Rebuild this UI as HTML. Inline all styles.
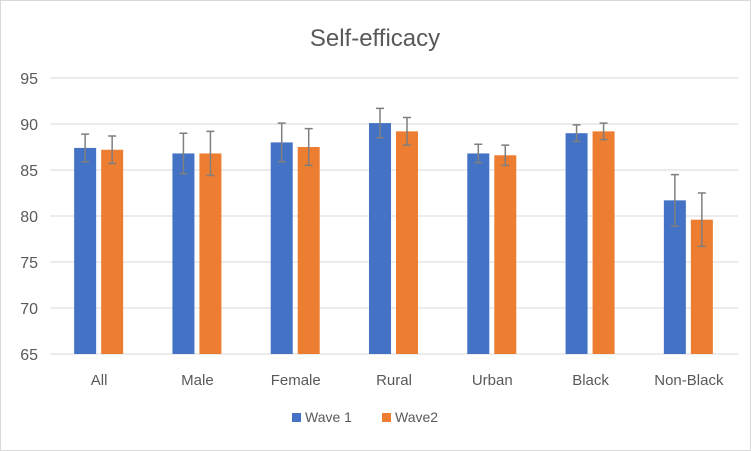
<!DOCTYPE html>
<html><head><meta charset="utf-8"><style>
body{margin:0;background:#fff}
svg{display:block;font-family:"Liberation Sans",sans-serif}
</style></head><body>
<svg id="chart" width="751" height="451">
<rect x="0.5" y="0.5" width="750" height="450" fill="#fff" stroke="#d9d9d9"/>
<text x="375" y="46" text-anchor="middle" font-size="24" fill="#595959">Self-efficacy</text>
<g id="grid"></g><g id="bars"></g><g id="labels"></g>
<g>
<rect x="292" y="413" width="9" height="9" fill="#4472c4"/>
<text x="305" y="422" font-size="14" fill="#595959">Wave 1</text>
<rect x="382" y="413" width="9" height="9" fill="#ed7d31"/>
<text x="395" y="422" font-size="14" fill="#595959">Wave2</text>
</g>
</svg>
<script>
const categories=["All","Male","Female","Rural","Urban","Black","Non-Black"];
const wave1=[87.4,86.8,88.0,90.1,86.8,89.0,81.7];
const wave2=[87.2,86.8,87.5,89.2,86.6,89.2,79.6];
const err1=[1.5,2.2,2.1,1.6,1.0,0.9,2.8];
const err2=[1.5,2.4,2.0,1.5,1.1,0.9,2.9];
const ticks=[65,70,75,80,85,90,95];
const NS="http://www.w3.org/2000/svg";
const x0=50,x1=738,yMin=65,yMax=95,py0=354,py1=78;
const y=v=>py0-(v-yMin)/(yMax-yMin)*(py0-py1);
const band=(x1-x0)/categories.length;
const cx=i=>x0+band*(i+0.5);
function mk(tag,attrs,parent){const e=document.createElementNS(NS,tag);for(const k in attrs)e.setAttribute(k,attrs[k]);document.getElementById(parent).appendChild(e);return e;}
ticks.forEach(t=>{
 const l=mk('line',{x1:x0,x2:x1,y1:y(t),y2:y(t),stroke:'#d9d9d9','stroke-width':1},'grid');
 
 
 const tx=mk('text',{x:38,y:y(t)+6,'text-anchor':'end','font-size':16,fill:'#595959'},'grid');
 tx.textContent=t;
 
 
});
const bw=22;
function drawBar(i,v,e,off,color,nm){
 const r=mk('rect',{x:cx(i)+off,y:y(v),width:bw,height:py0-y(v),fill:color},'bars');
 
 
 const mx=cx(i)+off+bw/2;
 const g=mk('path',{d:`M${mx},${y(v+e)}V${y(v-e)}M${mx-4},${y(v+e)}H${mx+4}M${mx-4},${y(v-e)}H${mx+4}`,stroke:'#7f7f7f','stroke-width':1.5,fill:'none'},'bars');
 
 
}
categories.forEach((c,i)=>{
 drawBar(i,wave1[i],err1[i],-25,'#4472c4','wave1');
 drawBar(i,wave2[i],err2[i],2,'#ed7d31','wave2');
 const t=mk('text',{x:cx(i),y:385,'text-anchor':'middle','font-size':15,fill:'#595959'},'labels');
 t.textContent=c;
 
 
});
</script>
</body></html>
